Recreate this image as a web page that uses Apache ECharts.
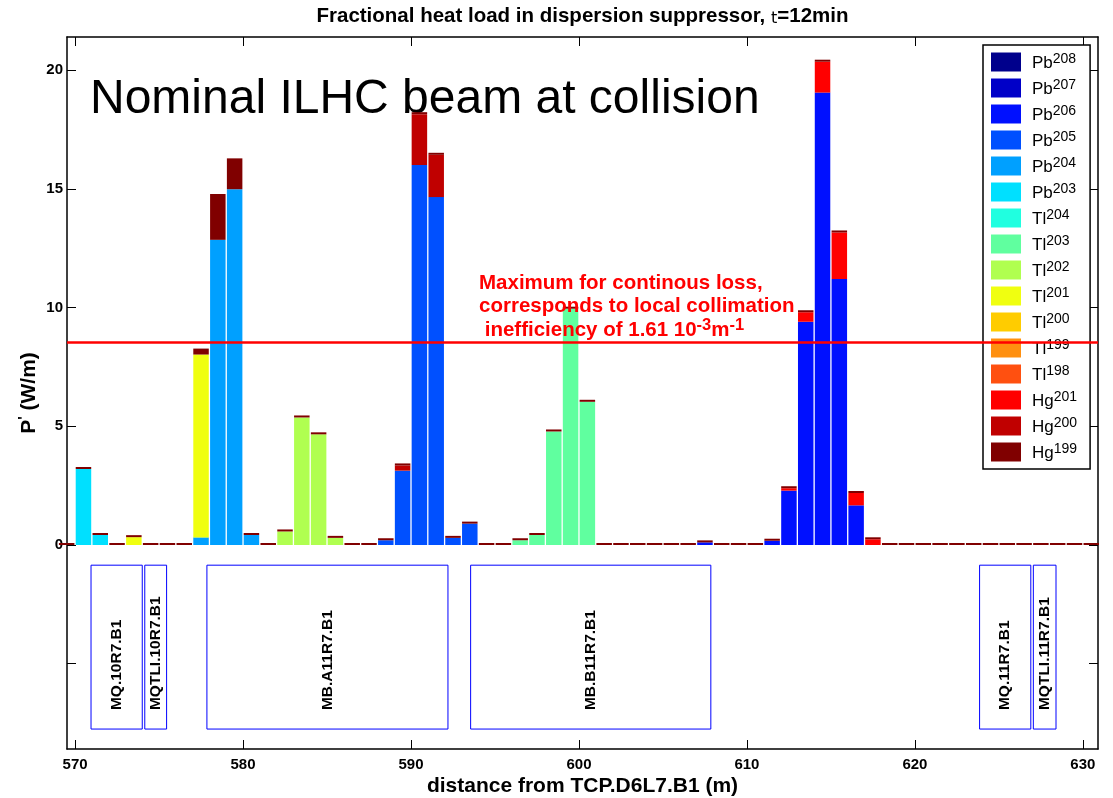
<!DOCTYPE html>
<html>
<head>
<meta charset="utf-8">
<script src="https://cdn.jsdelivr.net/npm/echarts@6/dist/echarts.min.js"></script>
<style>
  html, body { margin: 0; padding: 0; background: #fff; }
  #main { width: 1113px; height: 798px; }
</style>
</head>
<body>
<div id="main"></div>
<script>
// bin centres along the beam line (m)
var binCenters = [569.5, 570.5, 571.5, 572.5, 573.5, 574.5, 575.5, 576.5, 577.5, 578.5,
  579.5, 580.5, 581.5, 582.5, 583.5, 584.5, 585.5, 586.5, 587.5, 588.5, 589.5, 590.5,
  591.5, 592.5, 593.5, 594.5, 595.5, 596.5, 597.5, 598.5, 599.5, 600.5, 601.5, 602.5,
  603.5, 604.5, 605.5, 606.5, 607.5, 608.5, 609.5, 610.5, 611.5, 612.5, 613.5, 614.5,
  615.5, 616.5, 617.5, 618.5, 619.5, 620.5, 621.5, 622.5, 623.5, 624.5, 625.5, 626.5,
  627.5, 628.5, 629.5, 630.5];

var isotopes = ['Pb208', 'Pb207', 'Pb206', 'Pb205', 'Pb204', 'Pb203', 'Tl204', 'Tl203',
  'Tl202', 'Tl201', 'Tl200', 'Tl199', 'Tl198', 'Hg201', 'Hg200', 'Hg199'];
var colors = ['#00008c', '#0000c8', '#0010ff', '#0050ff', '#00a0ff', '#00e0ff', '#20ffe0', '#60ff9f',
  '#b0ff50', '#f0ff10', '#ffcc00', '#ff9010', '#ff5010', '#ff0000', '#c00000', '#800000'];

// heat load per isotope, [position, W/m], only non-empty bins
var pb208 = [];
var pb207 = [];
var pb206 = [[607.5, 0.11], [611.5, 0.18], [612.5, 2.29], [613.5, 9.40], [614.5, 19.05], [615.5, 11.20], [616.5, 1.67]];
var pb205 = [[588.5, 0.20], [589.5, 3.13], [590.5, 16.0], [591.5, 14.65], [592.5, 0.30], [593.5, 0.90]];
var pb204 = [[577.5, 0.32], [578.5, 12.85], [579.5, 14.98], [580.5, 0.42]];
var pb203 = [[570.5, 3.20], [571.5, 0.42]];
var tl204 = [];
var tl203 = [[596.5, 0.20], [597.5, 0.42], [598.5, 4.78], [599.5, 9.95], [600.5, 6.03]];
var tl202 = [[582.5, 0.57], [583.5, 5.37], [584.5, 4.66], [585.5, 0.30]];
var tl201 = [[573.5, 0.33], [577.5, 7.70]];
var tl200 = [];
var tl199 = [];
var tl198 = [];
var hg201 = [[612.5, 0.10], [613.5, 0.40], [614.5, 1.30], [615.5, 1.96], [616.5, 0.52], [617.5, 0.24]];
var hg200 = [[589.5, 0.22], [590.5, 2.14], [591.5, 1.78]];
var hg199 = [[577.5, 0.25], [578.5, 1.93], [579.5, 1.30]];
var loads = [pb208, pb207, pb206, pb205, pb204, pb203, tl204, tl203, tl202, tl201, tl200, tl199, tl198, hg201, hg200, hg199];

// magnets
var magnetNames = ['MQ.10R7.B1', 'MQTLI.10R7.B1', 'MB.A11R7.B1', 'MB.B11R7.B1', 'MQ.11R7.B1', 'MQTLI.11R7.B1'];
var magnetStart = [570.95, 574.15, 577.85, 593.55, 623.85, 627.05];
var magnetEnd = [574.0, 575.45, 592.2, 607.85, 626.9, 628.4];

var xTicks = [570, 580, 590, 600, 610, 620, 630];
var yTicks = [-5, 0, 5, 10, 15, 20];
var yLabels = [0, 5, 10, 15, 20];
var limitLoad = 8.55;

var FONT = 'Liberation Sans';

// value first so that the stack runs on the y dimension
function fullSeries(sparse) {
  return binCenters.map(function (x) {
    var v = 0;
    sparse.forEach(function (p) { if (p[0] === x) v = p[1]; });
    return [v, x];
  });
}

var series = isotopes.map(function (name, i) {
  var s = {
    name: name,
    type: 'bar',
    stack: 'load',
    barWidth: 15.5,
    clip: true,
    encode: { x: 1, y: 0 },
    itemStyle: { color: colors[i] },
    data: fullSeries(loads[i])
  };
  if (name === 'Hg199') {
    s.barMinHeight = 2;
    s.markLine = {
      silent: true,
      symbol: 'none',
      label: { show: false },
      lineStyle: { color: '#ff0000', width: 2.5, type: 'solid' },
      data: [{ yAxis: limitLoad }]
    };
  }
  return s;
});

series.push({
  type: 'custom',
  name: 'magnets',
  xAxisIndex: 0,
  yAxisIndex: 0,
  clip: false,
  encode: { x: [0, 1], y: 2 },
  data: magnetNames.map(function (n, i) { return [magnetStart[i], magnetEnd[i], -0.85]; }),
  renderItem: function (params, api) {
    var p0 = api.coord([api.value(0), -0.85]);
    var p1 = api.coord([api.value(1), -7.75]);
    var lab = api.coord([(api.value(0) + api.value(1)) / 2, -6.95]);
    return {
      type: 'group',
      children: [{
        type: 'rect',
        shape: { x: p0[0], y: p0[1], width: p1[0] - p0[0], height: p1[1] - p0[1] },
        style: { fill: 'rgba(0,0,0,0)', stroke: '#0000ff', lineWidth: 1 }
      }, {
        type: 'text',
        x: lab[0],
        y: lab[1],
        rotation: Math.PI / 2,
        style: {
          text: magnetNames[params.dataIndex],
          fill: '#000',
          fontFamily: FONT,
          fontWeight: 'bold',
          fontSize: 15.5,
          align: 'left',
          verticalAlign: 'middle'
        }
      }]
    };
  }
});

var myChart = echarts.init(document.getElementById('main'));
var option = {
  animation: false,
  backgroundColor: '#fff',
  grid: { left: 67, right: 15, top: 37, bottom: 49, outerBoundsMode: 'none' },
  legend: {
    orient: 'vertical',
    left: 983,
    top: 45,
    selectedMode: false,
    icon: 'rect',
    itemWidth: 30,
    itemHeight: 19,
    itemGap: 6,
    padding: [7, 13, 7, 8],
    backgroundColor: '#fff',
    borderColor: '#000',
    borderWidth: 1.5,
    data: isotopes,
    formatter: function (name) {
      var m = name.match(/^([A-Za-z]+)(\d+)$/);
      return '{e|' + m[1] + '}{s|' + m[2] + '}';
    },
    textStyle: {
      color: '#000',
      rich: {
        e: { fontFamily: FONT, fontSize: 17, lineHeight: 20, verticalAlign: 'bottom', color: '#000', padding: [0, 0, 0, 6] },
        s: { fontFamily: FONT, fontSize: 14, lineHeight: 20, verticalAlign: 'top', color: '#000' }
      }
    }
  },
  xAxis: [{
    type: 'value',
    position: 'bottom',
    min: 569.52,
    max: 630.9,
    name: 'distance from TCP.D6L7.B1 (m)',
    nameLocation: 'middle',
    nameGap: 27,
    nameMoveOverlap: false,
    nameTextStyle: { fontFamily: FONT, fontWeight: 'bold', fontSize: 21, color: '#000' },
    axisLine: { show: true, onZero: false, lineStyle: { color: '#000', width: 1.5 } },
    axisTick: { inside: true, length: 9, customValues: xTicks, lineStyle: { color: '#000' } },
    axisLabel: { customValues: xTicks, fontFamily: FONT, fontWeight: 'bold', fontSize: 15, color: '#000', margin: 8 },
    splitLine: { show: false }
  }, {
    type: 'value',
    position: 'top',
    min: 569.52,
    max: 630.9,
    axisLine: { show: true, onZero: false, lineStyle: { color: '#000', width: 1.5 } },
    axisTick: { inside: true, length: 9, customValues: xTicks, lineStyle: { color: '#000' } },
    axisLabel: { show: false },
    splitLine: { show: false }
  }],
  yAxis: [{
    type: 'value',
    position: 'left',
    min: -8.59,
    max: 21.39,
    name: "{p|P}{s|'}{p| (W/m)}",
    nameLocation: 'middle',
    nameGap: 27,
    nameMoveOverlap: false,
    nameTextStyle: {
      rich: {
        p: { fontFamily: FONT, fontWeight: 'bold', fontSize: 21, color: '#000', lineHeight: 24, verticalAlign: 'bottom' },
        s: { fontFamily: FONT, fontWeight: 'bold', fontSize: 15, color: '#000', lineHeight: 24, verticalAlign: 'top' }
      }
    },
    axisLine: { show: true, onZero: false, lineStyle: { color: '#000', width: 1.5 } },
    axisTick: { inside: true, length: 9, customValues: yTicks, lineStyle: { color: '#000' } },
    axisLabel: { customValues: yLabels, fontFamily: FONT, fontWeight: 'bold', fontSize: 15, color: '#000', margin: 4 },
    splitLine: { show: false }
  }, {
    type: 'value',
    position: 'right',
    min: -8.59,
    max: 21.39,
    axisLine: { show: true, onZero: false, lineStyle: { color: '#000', width: 1.5 } },
    axisTick: { inside: true, length: 9, customValues: yTicks, lineStyle: { color: '#000' } },
    axisLabel: { show: false },
    splitLine: { show: false }
  }],
  graphic: [{
    type: 'text',
    x: 582.5,
    y: 15,
    style: {
      text: '{b|Fractional heat load in dispersion suppressor, }{t|t}{b|=12min}',
      align: 'center',
      verticalAlign: 'middle',
      rich: {
        b: { fontFamily: FONT, fontWeight: 'bold', fontSize: 20.5, fill: '#000', lineHeight: 24, verticalAlign: 'bottom' },
        t: { fontFamily: 'DejaVu Sans', fontSize: 16, fill: '#000', lineHeight: 24, verticalAlign: 'bottom' }
      }
    }
  }, {
    type: 'text',
    x: 90,
    y: 100,
    style: {
      text: 'Nominal ILHC beam at collision',
      fontFamily: FONT,
      fontSize: 48,
      fill: '#000',
      align: 'left',
      verticalAlign: 'middle'
    }
  }, {
    type: 'text',
    x: 479,
    y: 270,
    z: 100,
    style: {
      text: '{a|Maximum for continous loss,}\n{a|corresponds to local collimation}\n{a| inefficiency of 1.61 10}{s|-3}{a|m}{s|-1}',
      align: 'left',
      verticalAlign: 'top',
      rich: {
        a: { fontFamily: FONT, fontWeight: 'bold', fontSize: 20.5, fill: '#ff0000', lineHeight: 23.5, verticalAlign: 'bottom' },
        s: { fontFamily: FONT, fontWeight: 'bold', fontSize: 16.5, fill: '#ff0000', lineHeight: 23.5, verticalAlign: 'top' }
      }
    }
  }],
  series: series
};
myChart.setOption(option);
</script>
</body>
</html>
